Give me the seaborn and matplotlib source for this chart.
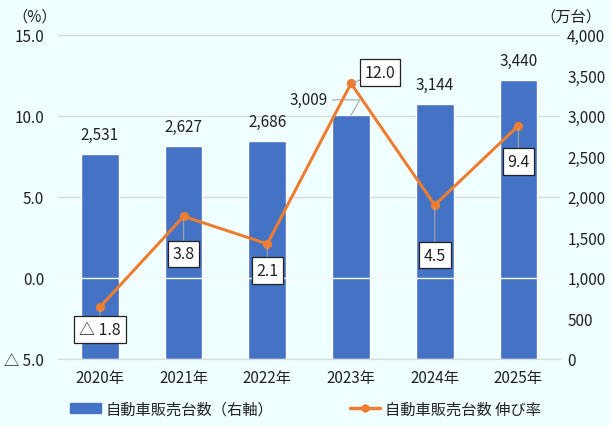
import matplotlib
matplotlib.use("Agg")
import matplotlib.pyplot as plt
import seaborn as sns
from matplotlib.patches import Patch
from matplotlib.lines import Line2D

years = ["2020年", "2021年", "2022年", "2023年", "2024年", "2025年"]
sales = [2531, 2627, 2686, 3009, 3144, 3440]
growth = [-1.8, 3.8, 2.1, 12.0, 4.5, 9.4]
growth_labels = ["△ 1.8", "3.8", "2.1", "12.0", "4.5", "9.4"]

sns.set_style("white")
plt.rcParams['font.family'] = ['Noto Sans CJK JP', 'DejaVu Sans']
plt.rcParams['font.size'] = 10

bg = "#F0FFFF"
blue = "#4472C4"
orange = "#ED7D31"
txt = "#222222"

fig = plt.figure(figsize=(6.11, 4.27), dpi=100, facecolor=bg)
ax = fig.add_axes([0.095, 0.157, 0.822, 0.759])
ax.set_facecolor(bg)

# bars (right axis, 万台)
sns.barplot(x=years, y=sales, ax=ax, color=blue, width=0.45, saturation=1, zorder=2)
ax.set_ylim(0, 4000)
ax.set_yticks(range(0, 4001, 500))
ax.set_yticklabels([f"{v:,}" for v in range(0, 4001, 500)])
ax.set_axisbelow(True)
for v in [0, 1000, 2000, 3000, 4000]:
    ax.axhline(v, color="#D9D9D9", lw=1, zorder=0)
ax.axhline(1000, color="white", lw=1, zorder=3)

# bar value labels
for i, v in enumerate(sales):
    if i == 3:
        ax.annotate(f"{v:,}", xy=(i, v), xytext=(-17, 11), textcoords="offset points",
                    ha="right", va="center", color=txt, fontsize=11,
                    arrowprops=dict(arrowstyle="-", color="#A6A6A6", lw=0.8, shrinkA=1, shrinkB=0,
                                    connectionstyle="angle,angleA=0,angleB=60,rad=0"))
    else:
        ax.annotate(f"{v:,}", xy=(i, v), xytext=(0, 14), textcoords="offset points",
                    ha="center", va="center", color=txt, fontsize=11)

# growth line (left axis, %)
ax2 = ax.twinx()
sns.pointplot(x=years, y=growth, ax=ax2, color=orange, markersize=5, linewidth=2.2, zorder=4)
ax2.set_ylim(-5, 15)
ax2.set_yticks([-5, 0, 5, 10, 15])
ax2.set_yticklabels(["△ 5.0", "0.0", "5.0", "10.0", "15.0"])
ax2.yaxis.tick_left()
ax.yaxis.tick_right()
ax2.set_xlim(-0.5, 5.5)
ax.set_xlim(-0.5, 5.5)

offsets = [(0, -16), (0, -27), (0, -19), (10, 8), (0, -36), (0, -26)]
for i, (v, lab) in enumerate(zip(growth, growth_labels)):
    dx, dy = offsets[i]
    ax2.annotate(lab, xy=(i, v), xytext=(dx, dy), textcoords="offset points",
                 ha="left" if dx > 0 else "center", va="center", color=txt, fontsize=11.5,
                 bbox=dict(boxstyle="square,pad=0.3", fc="white", ec="#222222", lw=0.9),
                 arrowprops=dict(arrowstyle="-", color="#A6A6A6", lw=0.8, shrinkA=0, shrinkB=2),
                 zorder=5)

for a in (ax, ax2):
    for s in ["top", "left", "right"]:
        a.spines[s].set_visible(False)
    a.spines["bottom"].set_color("#D9D9D9")
    a.tick_params(length=0, colors=txt, labelsize=11)
    a.set_xlabel("")
    a.set_ylabel("")
ax.tick_params(axis="x", pad=7)
ax.tick_params(axis="y", pad=5)
ax2.tick_params(axis="y", pad=10)

fig.text(0.056, 0.96, "（%）", ha="center", va="center", color=txt, fontsize=11)
fig.text(0.935, 0.96, "（万台）", ha="center", va="center", color=txt, fontsize=11)

# legend
handles = [Patch(color=blue), Line2D([], [], color=orange, lw=2.5, marker="o", markersize=5)]
labels = ["自動車販売台数（右軸）", "自動車販売台数 伸び率"]
fig.legend(handles, labels, loc="center", bbox_to_anchor=(0.5, 0.04), ncol=2, frameon=False,
           columnspacing=5.0, handlelength=2.0, handleheight=0.6, handletextpad=0.3,
           fontsize=11, labelcolor=txt)

fig.savefig("out.png", dpi=100, facecolor=bg)
